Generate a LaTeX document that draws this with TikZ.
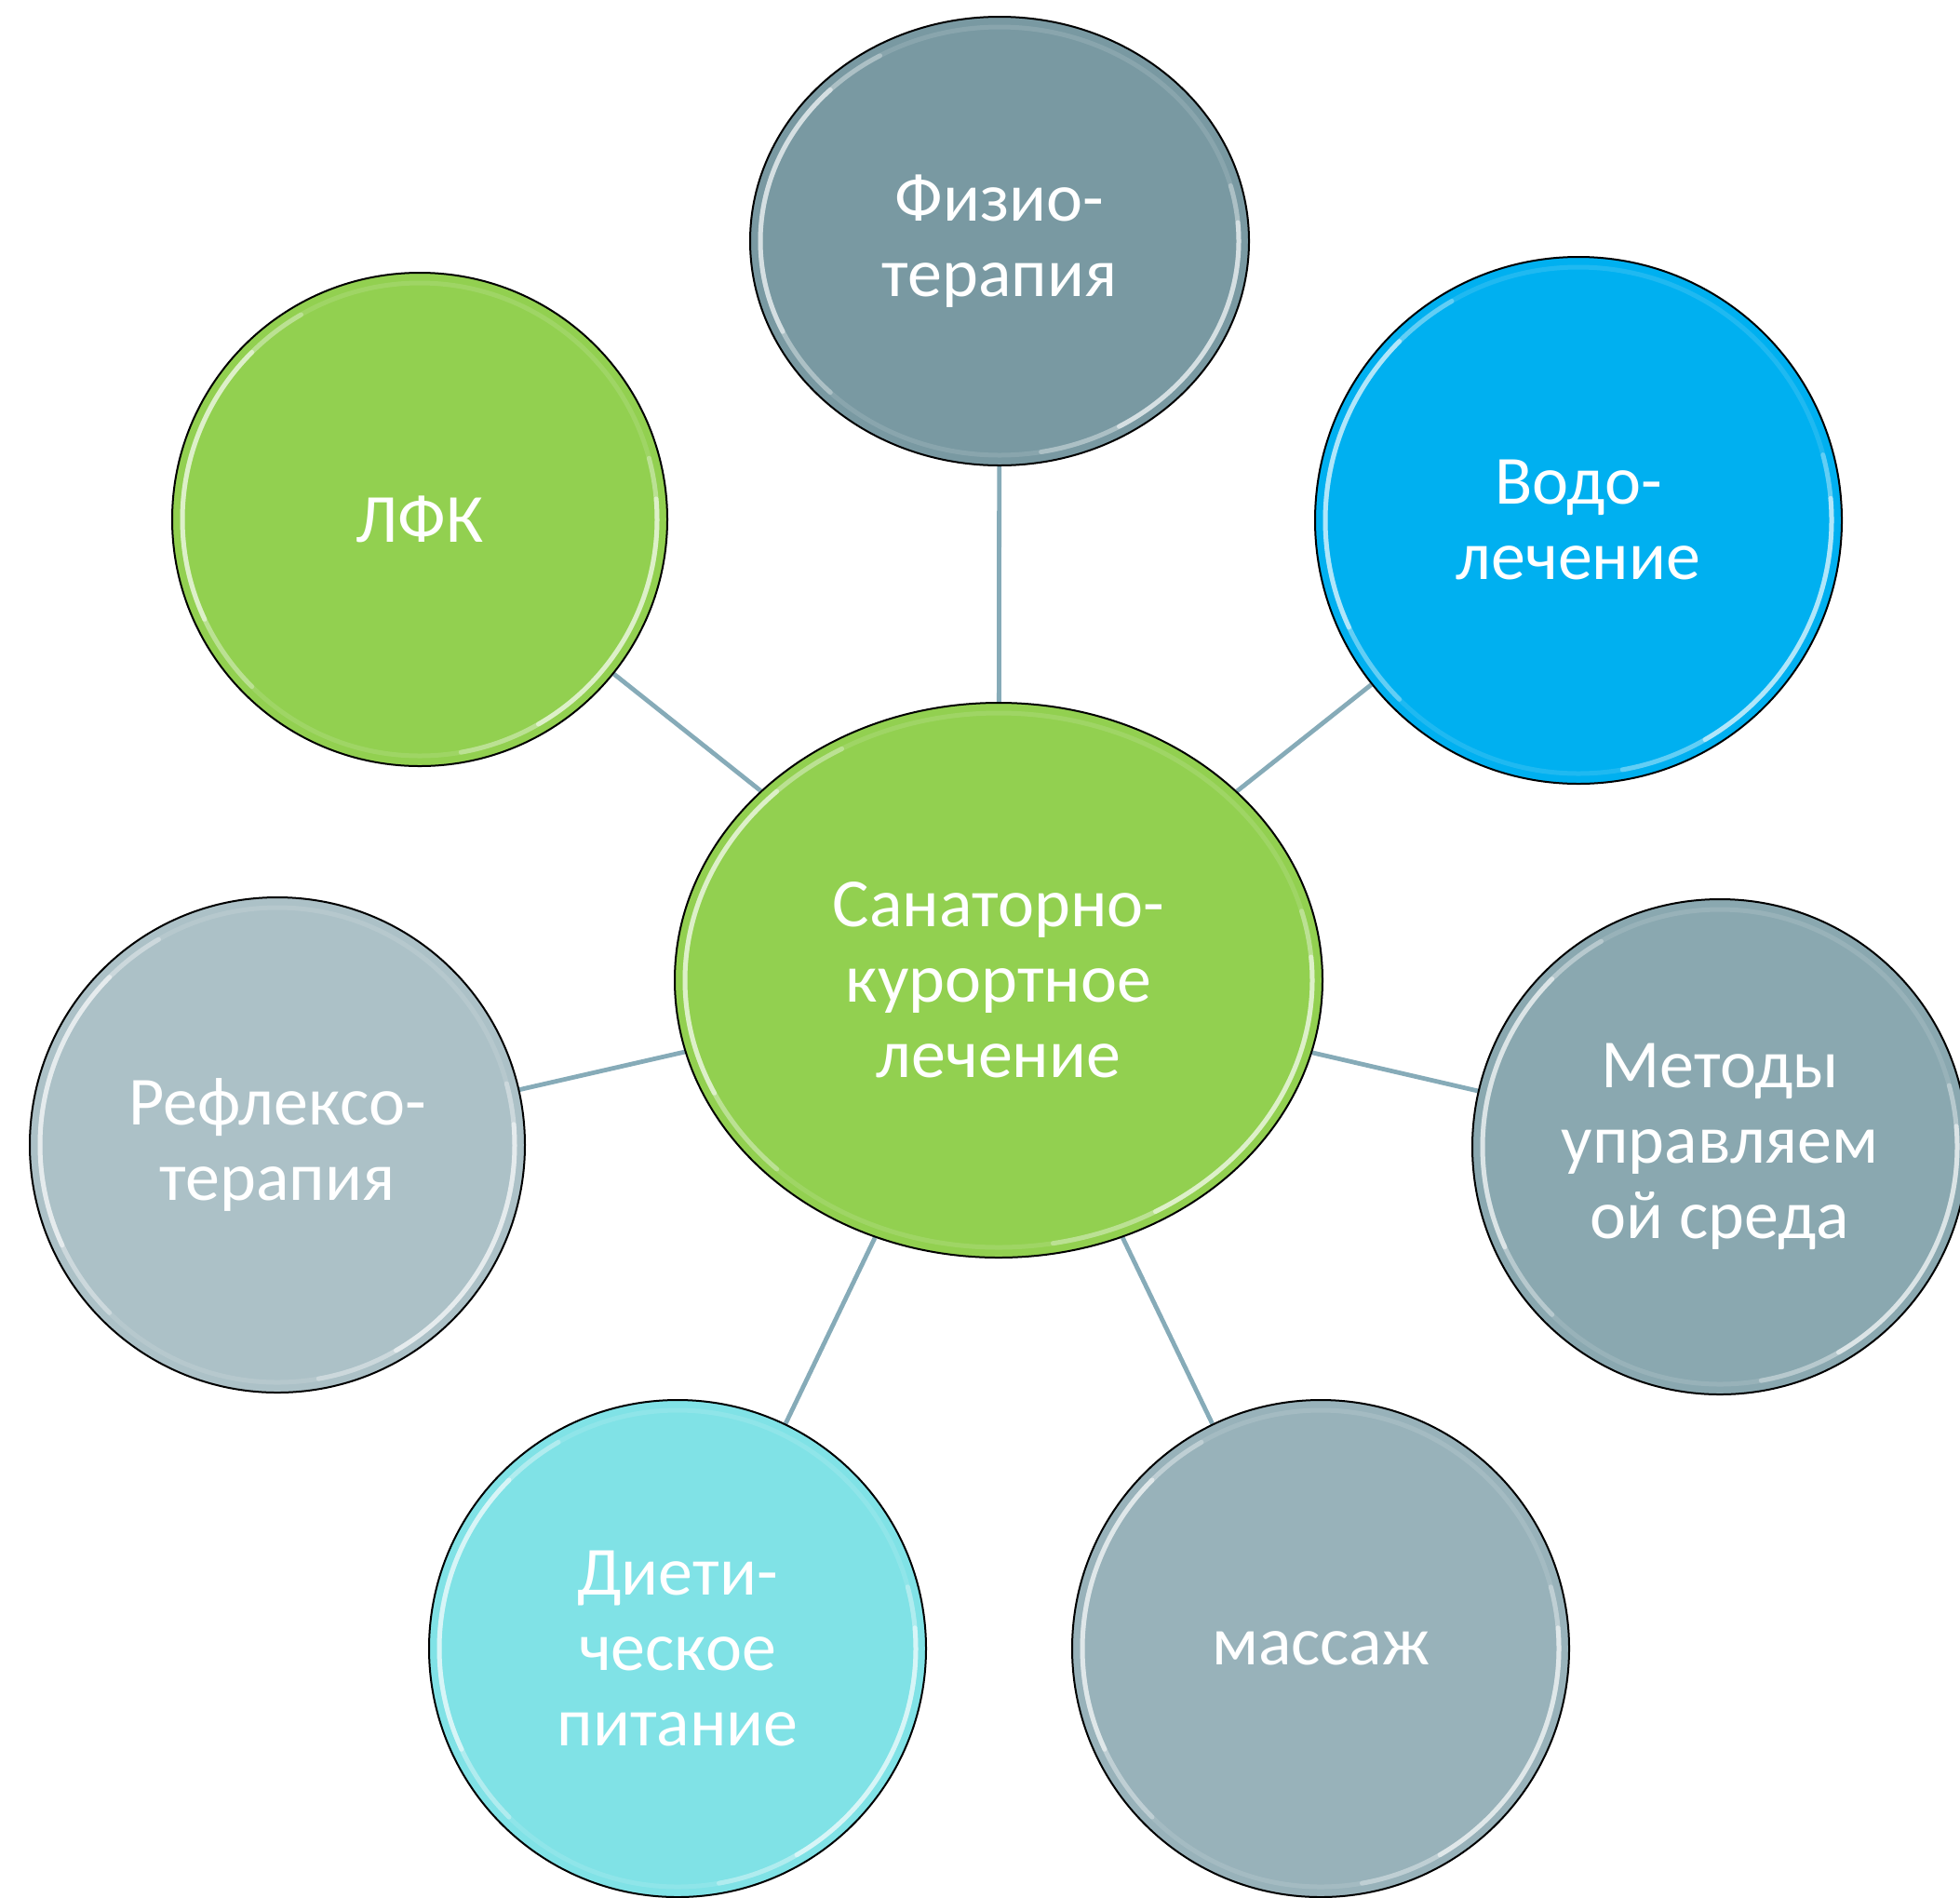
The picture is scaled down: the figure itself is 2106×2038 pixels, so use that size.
\documentclass[tikz,border=0pt]{standalone}
\usepackage{fontspec}
\setmainfont{Carlito}
\usetikzlibrary{shapes.geometric}

\definecolor{greenfill}{RGB}{146,208,80}
\definecolor{physfill}{RGB}{121,153,162}
\definecolor{waterfill}{RGB}{0,176,240}
\definecolor{methfill}{RGB}{138,168,176}
\definecolor{reflfill}{RGB}{172,193,199}
\definecolor{dietfill}{RGB}{128,226,230}
\definecolor{massfill}{RGB}{152,178,186}
\definecolor{linkcol}{RGB}{134,171,184}

\pgfdeclarelayer{back}
\pgfsetlayers{back,main}

\tikzset{
  bub/.style={ellipse, draw=black, line width=2pt, text=white, align=center,
    inner sep=0pt, font=\fontsize{74}{81}\selectfont},
  link/.style={draw=linkcol, line width=4.8pt},
  gloss/.style={draw=white, line width=5pt, line cap=round},
}

% bubble: name, x, y, x-radius, y-radius, fill, text
\newcommand\bubble[7]{%
  \node[bub, fill=#6, minimum width=2*#4, minimum height=2*#5] (#1) at (#2,-#3) {#7};
  \begin{scope}[shift={(#2,-#3)}]
    \pgfmathsetmacro\gra{#4-11}\pgfmathsetmacro\grb{#5-11}
    \draw[gloss, opacity=.12] (0,0) ellipse [x radius=\gra pt, y radius=\grb pt];
    \draw[gloss, opacity=.3] (120:\gra pt and \grb pt)
      arc[start angle=120, end angle=225, x radius=\gra pt, y radius=\grb pt];
    \draw[gloss, opacity=.5] (135:\gra pt and \grb pt)
      arc[start angle=135, end angle=205, x radius=\gra pt, y radius=\grb pt];
    \draw[gloss, opacity=.3] (-80:\gra pt and \grb pt)
      arc[start angle=-80, end angle=15, x radius=\gra pt, y radius=\grb pt];
    \draw[gloss, opacity=.5] (-60:\gra pt and \grb pt)
      arc[start angle=-60, end angle=5, x radius=\gra pt, y radius=\grb pt];
  \end{scope}%
}

\begin{document}
\begin{tikzpicture}[x=1pt, y=1pt]
  \useasboundingbox (0,0) rectangle (2106,-2038);
  \clip (0,0) rectangle (2106,-2038);

  \bubble{hub}{1073}{1053}{348}{298}{greenfill}{Санаторно-\\курортное\\лечение}
  \bubble{phys}{1074}{259}{268}{241}{physfill}{Физио-\\терапия}
  \bubble{water}{1696}{559}{283}{283}{waterfill}{Водо-\\лечение}
  \bubble{lfk}{451}{558}{266}{265}{greenfill}{ЛФК}
  \bubble{refl}{298}{1230}{266}{266}{reflfill}{Рефлексо-\\терапия}
  \bubble{meth}{1848}{1232}{266}{266}{methfill}{Методы\\управляем\\ой среда}
  \bubble{diet}{728}{1771}{267}{267}{dietfill}{Диети-\\ческое\\питание}
  \bubble{mass}{1419}{1771}{267}{267}{massfill}{массаж}

  \begin{pgfonlayer}{back}
    \foreach \n in {phys,water,lfk,refl,meth,diet,mass}
      \draw[link] (hub) -- (\n);
  \end{pgfonlayer}
\end{tikzpicture}
\end{document}
